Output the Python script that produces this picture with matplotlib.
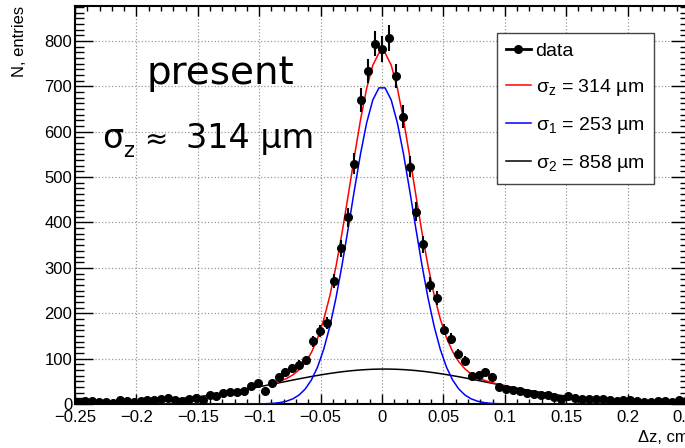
import numpy as np
import matplotlib
matplotlib.use("Agg")
import matplotlib.pyplot as plt
from matplotlib.ticker import MultipleLocator, FuncFormatter
from matplotlib.lines import Line2D

# histogram: 89 bins over [-0.25, 0.25] cm
x_range = (-0.25, 0.25)
n_bins = 89
counts = [5, 6, 6, 5, 5, 2, 8, 6, 5, 7,
          8, 8, 10, 14, 9, 7, 10, 14, 9, 20,
          18, 24, 27, 27, 28, 39, 46, 28, 46, 59,
          71, 79, 87, 96, 138, 161, 179, 271, 343, 411,
          529, 670, 734, 794, 782, 806, 723, 633, 523, 424,
          352, 263, 233, 164, 144, 110, 95, 62, 65, 70,
          60, 37, 33, 31, 28, 25, 21, 20, 20, 16,
          11, 18, 14, 11, 11, 11, 11, 8, 6, 8,
          9, 7, 5, 5, 6, 6, 5, 8, 7]

# fit results (amplitude, mean [cm], sigma [cm])
g1_amp, g1_mean, g1_sigma = 700.0, 0.0, 0.0253
g2_amp, g2_mean, g2_sigma = 77.0, 0.002, 0.0858
fit_range = (-0.0925, 0.1025)

legend_labels = ["data",
                 "σ$_\\mathregular{z}$ = 314 µm",
                 "σ$_\\mathregular{1}$ = 253 µm",
                 "σ$_\\mathregular{2}$ = 858 µm"]
x_ticks = [-0.25, -0.2, -0.15, -0.1, -0.05, 0, 0.05, 0.1, 0.15, 0.2, 0.25]
y_ticks = [0, 100, 200, 300, 400, 500, 600, 700, 800]


def gaus(x, a, m, s):
    return a * np.exp(-0.5 * ((x - m) / s) ** 2)


plt.rcParams['font.family'] = ['Liberation Sans', 'DejaVu Sans']

fig = plt.figure(figsize=(6.85, 4.48), dpi=100)
ax = fig.add_axes([75 / 685, 44 / 448, 614 / 685, 398 / 448])

edges = np.linspace(x_range[0], x_range[1], n_bins + 1)
centers = 0.5 * (edges[:-1] + edges[1:])
counts = np.array(counts, dtype=float)

# curves, drawn like ROOT polylines (coarse sampling)
xs = np.arange(-0.2475, 0.25, 0.005)
xr = np.arange(fit_range[0], fit_range[1] + 1e-9, 0.005)
ax.plot(xs, gaus(xs, g2_amp, g2_mean, g2_sigma), color='black', lw=1.1, zorder=3)
ax.plot(xs, gaus(xs, g1_amp, g1_mean, g1_sigma), color='blue', lw=1.1, zorder=3)
ax.plot(xr, gaus(xr, g1_amp, g1_mean, g1_sigma) + gaus(xr, g2_amp, g2_mean, g2_sigma),
        color='red', lw=1.1, zorder=3)

ax.errorbar(centers, counts, yerr=np.sqrt(counts), fmt='o', color='black',
            ms=5.5, elinewidth=1.5, capsize=0, zorder=4, clip_on=True)

ax.set_xlim(*x_range)
ax.set_ylim(0, 877)
ax.set_xticks(x_ticks)
ax.set_yticks(y_ticks)
ax.xaxis.set_minor_locator(MultipleLocator(0.01))
ax.yaxis.set_minor_locator(MultipleLocator(12.5))
ax.xaxis.set_major_formatter(FuncFormatter(lambda v, p: ('%g' % v).replace('-', '\u2212')))
ax.tick_params(which='both', direction='in', top=True, right=True, labelsize=12, width=1)
ax.tick_params(axis='x', which='major', length=7, pad=4)
ax.tick_params(axis='x', which='minor', length=3.5)
ax.tick_params(axis='y', which='major', length=13, pad=2)
ax.tick_params(axis='y', which='minor', length=6.5)
for sp in ax.spines.values():
    sp.set_linewidth(1.5)
ax.grid(True, which='major', linestyle=':', color='#999999', lw=0.9)
ax.set_axisbelow(True)

ax.set_ylabel('N, entries', loc='top', fontsize=12)
ax.yaxis.set_label_coords(-0.078, 1.0)
ax.set_xlabel('Δz, cm', loc='right', fontsize=12)
ax.xaxis.set_label_coords(1.0, -0.065)

handles = [Line2D([], [], color='black', marker='o', ms=5.5, lw=2),
           Line2D([], [], color='red', lw=1.1),
           Line2D([], [], color='blue', lw=1.1),
           Line2D([], [], color='black', lw=1.1)]
leg = ax.legend(handles, legend_labels, loc='upper left',
                bbox_to_anchor=(422 / 614, 371 / 398), borderaxespad=0,
                fontsize=14, frameon=True, fancybox=False, framealpha=1,
                edgecolor='#444444', handlelength=1.25, handletextpad=0.25,
                labelspacing=0.88, borderpad=0.48)
leg.get_frame().set_linewidth(1.0)

# big labels
fig.text(147 / 685, 1 - 84 / 448, 'present', fontsize=28, family='DejaVu Sans', va='baseline')
fig.text(102 / 685, 1 - 148 / 448, 'σ', fontsize=24, family='DejaVu Sans', va='baseline')
fig.text(123 / 685, 1 - 157 / 448, 'z', fontsize=15, family='DejaVu Sans', va='baseline')
fig.text(144 / 685, 1 - 148 / 448, '≈', fontsize=20, family='DejaVu Sans', va='baseline')
fig.text(186 / 685, 1 - 148 / 448, '314 µm', fontsize=24, family='DejaVu Sans', va='baseline')

fig.savefig('out.png', dpi=100)
